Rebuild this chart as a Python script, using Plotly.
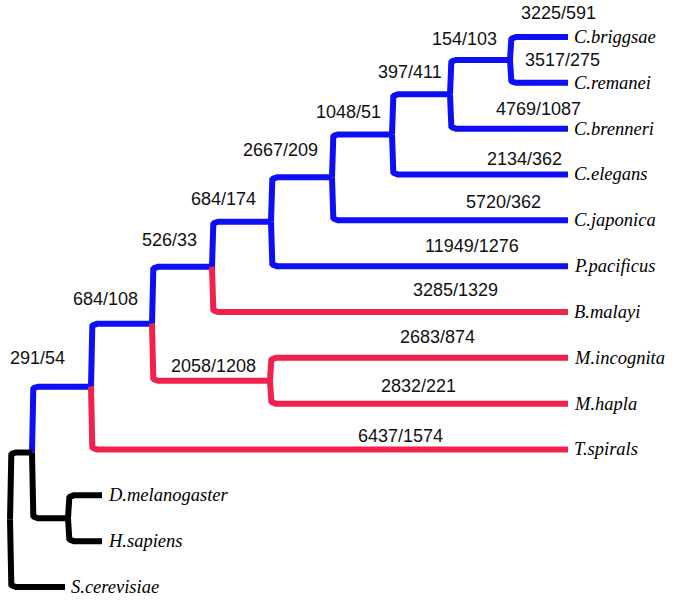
import plotly.graph_objects as go
import numpy as np

# -----------------------------
# Data: leaves (top to bottom), branch depths, edge labels
# -----------------------------
leaves = ["C.briggsae", "C.remanei", "C.brenneri", "C.elegans", "C.japonica",
          "P.pacificus", "B.malayi", "M.incognita", "M.hapla", "T.spirals",
          "D.melanogaster", "H.sapiens", "S.cerevisiae"]
leaf_depth = [568, 568, 568, 568, 568, 568, 568, 568, 568, 568, 102, 102, 65]

# internal nodes: name -> (depth, [children])
node_names = ["n_bri_rem", "n_bren", "n_ele", "n_jap", "n_pac", "n_bma",
              "n_mel", "n_nem", "n_tsp", "n_dh", "n_bil", "root"]
node_depth = [510, 450, 392, 332, 271, 212, 270, 152, 91, 68, 32, 10]
node_children = [
    ["C.briggsae", "C.remanei"],
    ["n_bri_rem", "C.brenneri"],
    ["n_bren", "C.elegans"],
    ["n_ele", "C.japonica"],
    ["n_jap", "P.pacificus"],
    ["n_pac", "B.malayi"],
    ["M.incognita", "M.hapla"],
    ["n_bma", "n_mel"],
    ["n_nem", "T.spirals"],
    ["D.melanogaster", "H.sapiens"],
    ["n_tsp", "n_dh"],
    ["n_bil", "S.cerevisiae"],
]

# edge labels (gained/lost) on the branch leading to a node
edge_labels = {
    "C.briggsae": "3225/591", "C.remanei": "3517/275", "C.brenneri": "4769/1087",
    "C.elegans": "2134/362", "C.japonica": "5720/362", "P.pacificus": "11949/1276",
    "B.malayi": "3285/1329", "M.incognita": "2683/874", "M.hapla": "2832/221",
    "T.spirals": "6437/1574", "n_bri_rem": "154/103", "n_bren": "397/411",
    "n_ele": "1048/51", "n_jap": "2667/209", "n_pac": "684/174", "n_bma": "526/33",
    "n_nem": "684/108", "n_tsp": "291/54", "n_mel": "2058/1208",
}

red_nodes = ["B.malayi", "n_mel", "M.incognita", "M.hapla", "T.spirals"]
black_nodes = ["n_bil", "n_dh", "D.melanogaster", "H.sapiens", "S.cerevisiae"]

# -----------------------------
# Layout of labels (centre x, lift above branch in px)
# -----------------------------
label_x = {
    "C.briggsae": 558, "C.remanei": 562, "C.brenneri": 538, "C.elegans": 524,
    "C.japonica": 503, "P.pacificus": 472, "B.malayi": 455, "M.incognita": 437,
    "M.hapla": 418, "T.spirals": 400, "n_bri_rem": 464, "n_bren": 410,
    "n_ele": 348, "n_jap": 280, "n_pac": 223, "n_bma": 169, "n_nem": 105,
    "n_tsp": 37, "n_mel": 213,
}
label_lift = {
    "C.briggsae": 24, "C.remanei": 23, "C.brenneri": 20, "C.elegans": 15,
    "C.japonica": 18, "P.pacificus": 20, "B.malayi": 22, "M.incognita": 21,
    "M.hapla": 18, "T.spirals": 13, "n_bri_rem": 21, "n_bren": 22,
    "n_ele": 22, "n_jap": 27, "n_pac": 23, "n_bma": 27, "n_nem": 25,
    "n_tsp": 29, "n_mel": 15,
}

BLUE = "#0E0EF5"
RED = "#F0214C"
BLACK = "#000000"
W, H = 675, 600
PX_TOP = 37.0      # pixel of first leaf
PX_STEP = 45.83    # pixels between leaves
RADIUS = 6.0       # corner radius, px

# -----------------------------
# Tree geometry
# -----------------------------
xpos, ypos = {}, {}
for i, name in enumerate(leaves):
    xpos[name] = leaf_depth[i]
    ypos[name] = float(i)
children = dict(zip(node_names, node_children))
for name, d in zip(node_names, node_depth):
    xpos[name] = d
for name in node_names:  # children are listed before parents
    ypos[name] = np.mean([ypos[c] for c in children[name]])

r_y = RADIUS / PX_STEP

def elbow(px, py, cx, cy):
    # vertical from (px,py) to (px,cy) then horizontal to (cx,cy), rounded corner
    sgn = 1 if cy > py else -1
    xs, ys = [px], [py]
    t = np.linspace(0, np.pi / 2, 8)
    xs += list(px + RADIUS - RADIUS * np.cos(t))
    ys += list(cy - sgn * r_y + sgn * r_y * np.sin(t))
    xs.append(cx)
    ys.append(cy)
    return xs, ys

segs = {BLUE: ([], []), RED: ([], []), BLACK: ([], [])}
for name in node_names:
    for c in children[name]:
        col = RED if c in red_nodes else BLACK if c in black_nodes else BLUE
        if name == "root":
            col = BLACK
        xs, ys = elbow(xpos[name], ypos[name], xpos[c], ypos[c])
        segs[col][0].extend(xs + [None])
        segs[col][1].extend(ys + [None])

fig = go.Figure()
for col, (xs, ys) in segs.items():
    fig.add_trace(go.Scatter(x=xs, y=ys, mode="lines",
                             line=dict(color=col, width=6),
                             hoverinfo="skip", showlegend=False))

# leaf names
for name in leaves:
    fig.add_annotation(x=xpos[name], y=ypos[name], text=name, showarrow=False,
                       xanchor="left", yanchor="middle", xshift=4,
                       font=dict(family="Liberation Serif", size=18.5,
                                 style="italic", color="black"))

# branch labels
for name, txt in edge_labels.items():
    fig.add_annotation(x=label_x[name], y=ypos[name], text=txt, showarrow=False,
                       xanchor="center", yanchor="middle", yshift=label_lift[name],
                       font=dict(family="Liberation Sans, Arial", size=18,
                                 color="#111111"))

y_lo = -PX_TOP / PX_STEP
y_hi = (H - PX_TOP) / PX_STEP
fig.update_layout(
    width=W, height=H,
    margin=dict(l=0, r=0, t=0, b=0),
    plot_bgcolor="white", paper_bgcolor="white",
    xaxis=dict(range=[0, W], visible=False, fixedrange=True),
    yaxis=dict(range=[y_hi, y_lo], visible=False, fixedrange=True),
)

# drop the default 8px body margin so the figure fills the window
fig.write_html("out.html",
               config={"displayModeBar": False},
               post_script="document.body.style.margin='0';"
                           "document.body.style.overflow='hidden';")
